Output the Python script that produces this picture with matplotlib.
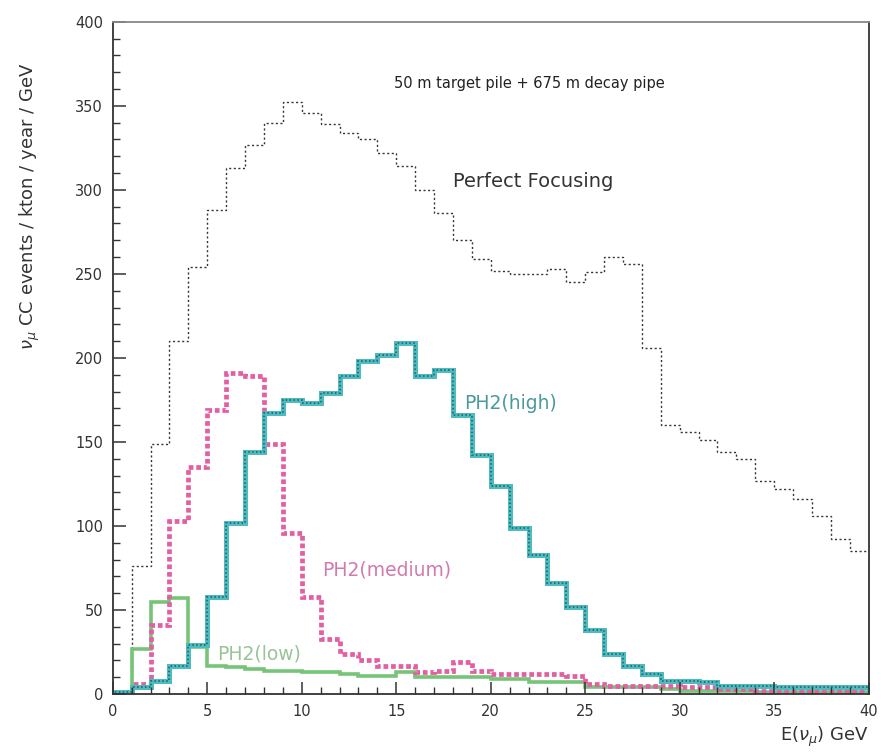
import numpy as np
import matplotlib
matplotlib.use("Agg")
import matplotlib.pyplot as plt

# 1 GeV bins from 0 to 40 GeV
bin_edges = np.arange(0, 41, 1)

# CC rates per bin (events / kton / year / GeV)
perfect_focusing = [0, 76, 149, 210, 254, 288, 313, 327, 340, 352,
                    346, 339, 334, 330, 322, 314, 300, 286, 270, 259,
                    252, 250, 250, 253, 245, 251, 260, 256, 206, 160,
                    156, 151, 144, 140, 127, 122, 116, 106, 92, 85]
ph2_high = [1, 4, 8, 17, 29, 58, 102, 144, 167, 175,
            173, 179, 189, 198, 202, 209, 189, 193, 166, 142,
            124, 99, 83, 66, 52, 38, 24, 17, 12, 8,
            8, 7, 5, 5, 5, 4, 4, 4, 4, 4]
ph2_medium = [0, 6, 41, 103, 135, 169, 191, 189, 149, 96,
              58, 33, 24, 20, 17, 17, 13, 14, 19, 14,
              12, 12, 12, 12, 11, 6, 5, 5, 5, 5,
              4, 4, 3, 3, 2, 2, 2, 2, 2, 2]
ph2_low = [0, 27, 55, 57, 28, 17, 16, 15, 14, 14,
           13, 13, 12, 11, 11, 13, 10, 10, 10, 10,
           9, 9, 7, 7, 7, 4, 4, 4, 4, 3,
           2, 2, 2, 2, 1, 1, 1, 1, 1, 1]

xticks = [0, 5, 10, 15, 20, 25, 30, 35, 40]
yticks = [0, 50, 100, 150, 200, 250, 300, 350, 400]

teal = "#4cbcc0"
teal_dark = "#2a6f73"
pink = "#e35fa2"
green = "#76c478"

fig = plt.figure(figsize=(8.81, 7.52), dpi=100)
ax = fig.add_axes([0.128, 0.077, 0.858, 0.894])

ax.stairs(perfect_focusing, bin_edges, color="#333333", lw=1.0,
          linestyle=(0, (1.5, 1.8)))
ax.stairs(ph2_low, bin_edges, color=green, lw=2.6)
ax.stairs(ph2_medium, bin_edges, color=pink, lw=3.4,
          linestyle=(0, (1.0, 0.6)))
ax.stairs(ph2_high, bin_edges, color=teal, lw=3.6)
ax.stairs(ph2_high, bin_edges, color=teal_dark, lw=1.4,
          linestyle=(0, (0.8, 1.2)))

ax.set_xlim(0, 40)
ax.set_ylim(0, 400)
ax.set_xticks(xticks)
ax.set_yticks(yticks)
ax.set_xticks(np.arange(0, 41, 1), minor=True)
ax.set_yticks(np.arange(0, 401, 10), minor=True)
ax.tick_params(axis="both", which="major", direction="in", length=9,
               width=1.1, labelsize=10.5, colors="#333333", pad=7)
ax.tick_params(axis="both", which="minor", direction="in", length=5,
               width=1.0, colors="#333333")
ax.tick_params(top=False, right=False)
for side in ax.spines.values():
    side.set_linewidth(1.3)
    side.set_color("#333333")
ax.spines["top"].set_color("#888888")

ax.text(14.9, 363, "50 m target pile + 675 m decay pipe", fontsize=10.5,
        va="center", color="#222222")
ax.text(18.0, 305, "Perfect Focusing", fontsize=14, va="center",
        color="#333333")
ax.text(18.6, 173, "PH2(high)", fontsize=13.5, va="center", color="#4a9a9e")
ax.text(11.1, 74, "PH2(medium)", fontsize=13.5, va="center", color="#d27aae")
ax.text(5.5, 24, "PH2(low)", fontsize=13.5, va="center", color="#98c498")

ax.text(1.0, -0.045, r"E($\nu_\mu$) GeV", transform=ax.transAxes,
        ha="right", va="top", fontsize=13, color="#333333")
ax.text(-0.11, 0.94, r"$\nu_\mu$ CC events / kton / year / GeV",
        transform=ax.transAxes, rotation=90, ha="center", va="top",
        fontsize=13, color="#333333")

fig.savefig("out.png", dpi=100)
